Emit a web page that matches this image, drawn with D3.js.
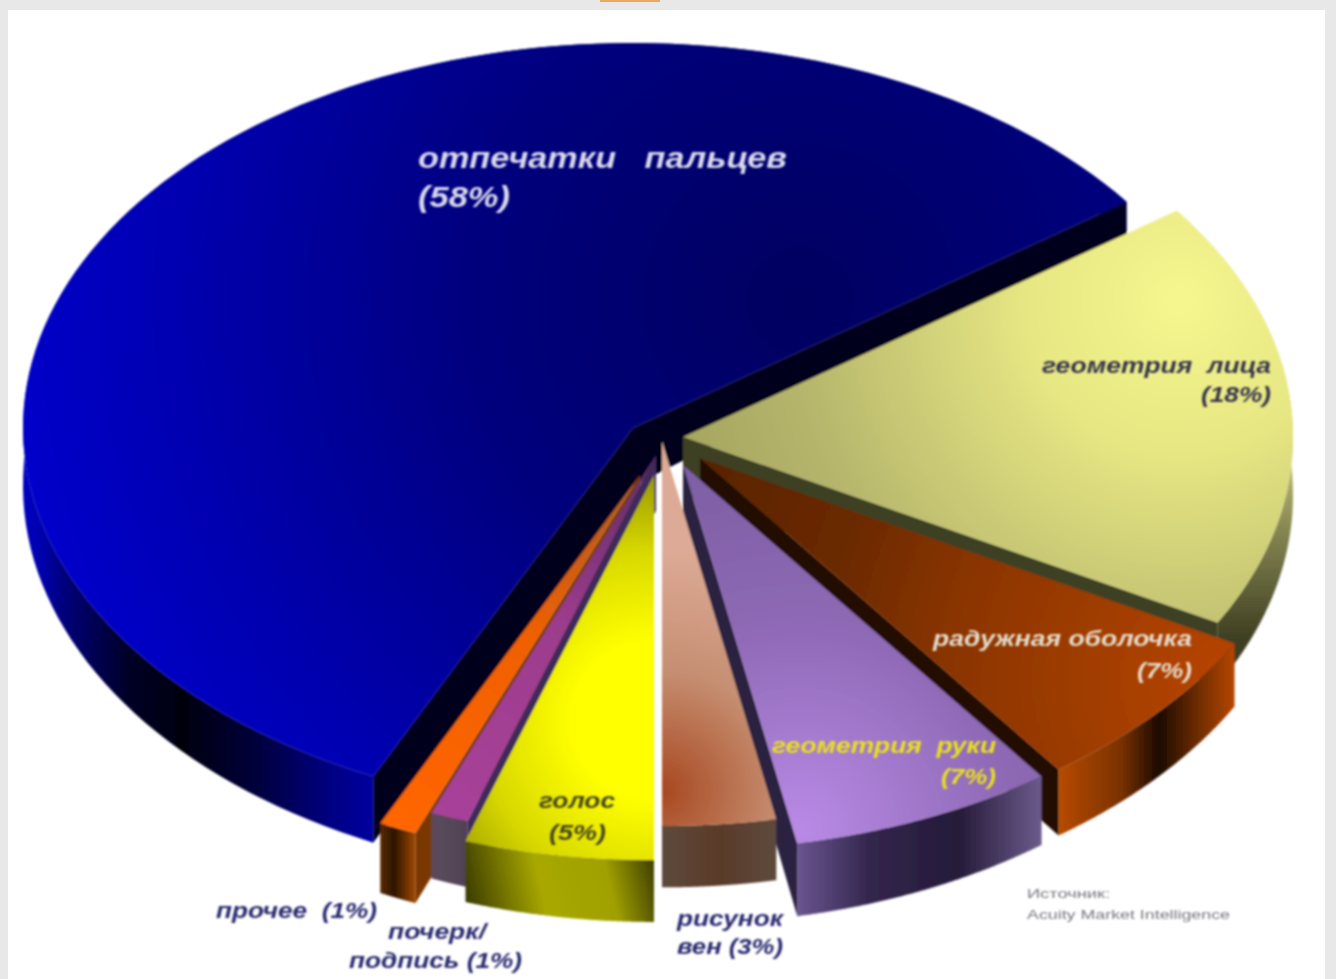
<!DOCTYPE html>
<html>
<head>
<meta charset="utf-8">
<script src="https://cdn.jsdelivr.net/npm/d3@7"></script>
<style>
  html, body { margin: 0; padding: 0; background: #e8e8e8; }
  svg { display: block; }
  text { font-family: "Liberation Sans", sans-serif; font-weight: 700; font-style: italic; }
  text.source { font-weight: 400; font-style: normal; }
</style>
</head>
<body>
<svg id="chart"></svg>
<script>
// --- Dados ---
const categories = ["отпечатки пальцев", "геометрия лица", "радужная оболочка", "геометрия руки",
                    "рисунок вен", "голос", "почерк/подпись", "прочее"];
const shares = [58, 18, 7, 7, 3, 5, 1, 1];
const labelLines = [
  ["отпечатки   пальцев", "(58%)"],
  ["геометрия  лица", "(18%)"],
  ["радужная оболочка", "(7%)"],
  ["геометрия  руки", "(7%)"],
  ["рисунок", "вен (3%)"],
  ["голос", "(5%)"],
  ["почерк/", "подпись (1%)"],
  ["прочее  (1%)"]
];
const sourceLines = ["Источник:", "Acuity Market Intelligence"];

// --- Configurações ---
const W = 1336, H = 979;
const rx = 610, ry = 385;
const rad = Math.PI / 180;

// ponto de origem de cada fatia (explosão), mesma ordem de categories
const apex = [[633, 428], [683, 437], [700, 458], [683, 465], [662, 441], [654, 475], [656, 455], [640, 475]];
// paredes de corte visíveis: "start", "end"
const cutWalls = [["start", "end"], ["end"], ["end"], ["end"], [], [], ["start"], ["start"]];
// ordem de pintura (de trás para a frente)
const paintOrder = [0, 1, 2, 3, 7, 6, 5, 4];
// ajuste da espessura por fatia
const depthFactor = [1, 1, 1, 1.03, 0.88, 0.86, 0.95, 1];

// espessura cresce em direção ao observador
const depth = d3.scaleLinear().domain([200, 430, 770, 860]).range([35, 58, 66, 72]);

const svg = d3.select("#chart").attr("width", W).attr("height", H);
const defs = svg.append("defs");

function addGradient(id, g) {
  const el = g.r
    ? defs.append("radialGradient").attr("cx", g.c[0]).attr("cy", g.c[1]).attr("r", g.r)
    : defs.append("linearGradient").attr("x1", g.p[0]).attr("y1", g.p[1]).attr("x2", g.p[2]).attr("y2", g.p[3]);
  el.attr("id", id).attr("gradientUnits", "userSpaceOnUse");
  el.selectAll("stop").data(g.stops).enter().append("stop")
    .attr("offset", d => d[0]).attr("stop-color", d => d[1]);
  return `url(#${id})`;
}

// estilos das fatias
const topStyles = [
  { c: [800, 300], r: 800, stops: [[0, "#000060"], [0.4, "#00007c"], [0.75, "#0000ac"], [1, "#0000cc"]] },
  { c: [1180, 300], r: 520, stops: [[0, "#f7f78f"], [0.3, "#e6e683"], [0.75, "#b5b56c"], [1, "#a5a560"]] },
  { c: [1230, 680], r: 560, stops: [[0, "#b84500"], [0.5, "#8a3500"], [0.72, "#6c2a00"], [1, "#5a2400"]] },
  { c: [800, 830], r: 420, stops: [[0, "#b98ae6"], [0.5, "#8e69b5"], [1, "#7a5c9f"]] },
  { c: [662, 790], r: 240, stops: [[0, "#a84820"], [0.5, "#c68f72"], [1, "#dcaa96"]] },
  { c: [650, 720], r: 260, stops: [[0, "#ffff00"], [0.3, "#ffff00"], [0.65, "#d8d800"], [1, "#8d8d00"]] },
  { c: [440, 815], r: 380, stops: [[0, "#a8429a"], [0.6, "#9c3c8c"], [1, "#6a3070"]] },
  { c: [400, 825], r: 380, stops: [[0, "#ff6600"], [0.6, "#f06000"], [1, "#b85a20"]] }
];
const sideStyles = [
  { p: [23, 0, 378, 0], stops: [[0, "#0000c4"], [0.06, "#0000a8"], [0.12, "#000078"], [0.3, "#000026"], [0.45, "#00000e"], [0.65, "#00003a"], [0.86, "#000080"], [1, "#0000a4"]] },
  { p: [0, 430, 0, 640], stops: [[0, "#d6d68a"], [0.45, "#8a8a55"], [1, "#3e3e22"]] },
  { p: [1058, 0, 1232, 0], stops: [[0, "#b84a00"], [0.36, "#7a3200"], [0.58, "#1c0b00"], [0.8, "#6c2c00"], [1, "#b04400"]] },
  { p: [797, 0, 1040, 0], stops: [[0, "#6a5590"], [0.3, "#33264d"], [0.66, "#251a38"], [1, "#6a5a8a"]] },
  { p: [662, 0, 776, 0], stops: [[0, "#5e4a3c"], [0.5, "#5a3a28"], [1, "#5c4a3c"]] },
  { p: [466, 905, 654, 862], stops: [[0, "#3a3a00"], [0.4, "#a8a800"], [0.75, "#a0a000"], [1, "#404000"]] },
  { p: [437, 0, 468, 0], stops: [[0, "#5a4a5c"], [1, "#4e4254"]] },
  { p: [380, 0, 420, 0], stops: [[0, "#5a2a00"], [0.35, "#2c1500"], [1, "#b85400"]] }
];
const wallColors = ["#00001e", "#3c4020", "#241000", "#2a2340", "#000", "#000", "#3f2a5c", "#7a3800"];
const labelColors = ["#d8d8ec", "#34344c", "#e6dccc", "#e8e020", "#2a2a70", "#46461c", "#2a2a70", "#2a2a70"];
// [x, linha de base, largura] por linha de rótulo
const labelBoxes = [
  [[418, 168, 369], [418, 207, 92]],
  [[1042, 373, 229], [1201, 402, 70]],
  [[933, 646, 259], [1137, 678, 55]],
  [[772, 753, 224], [941, 784, 55]],
  [[677, 926, 106], [677, 954, 106]],
  [[539, 808, 76], [549, 840, 57]],
  [[388, 939, 98], [349, 968, 173]],
  [[216, 918, 161]]
];
const sourceBoxes = [[1027, 898, 83], [1027, 919, 203]];

// blur leve: a imagem original é de baixa resolução
const soft = defs.append("filter").attr("id", "soft");
soft.append("feGaussianBlur").attr("stdDeviation", 0.8);
const softText = defs.append("filter").attr("id", "softText")
  .attr("x", "-5%").attr("y", "-20%").attr("width", "110%").attr("height", "140%");
softText.append("feGaussianBlur").attr("stdDeviation", 0.8);

// --- Fundo ---
svg.append("rect").attr("x", 8).attr("y", 10).attr("width", 1317).attr("height", H - 10).attr("fill", "#fff");
svg.append("rect").attr("x", 600).attr("y", 0).attr("width", 60).attr("height", 2).attr("fill", "#e8a860");

// --- Fatias ---
const pie = d3.pie().sort(null).startAngle(-154.8 * rad).endAngle(205.2 * rad);
const arcs = pie(shares);
const line = d3.line();

// ângulo 0 em cima, sentido horário (igual ao d3.pie)
const rimPoint = (i, a) => [apex[i][0] + rx * Math.sin(a), apex[i][1] - ry * Math.cos(a)];
const drop = (p, i) => [p[0], p[1] + depth(p[1]) * depthFactor[i]];
const rim = (i, a0, a1) => d3.range(0, 121).map(k => rimPoint(i, a0 + (a1 - a0) * k / 120));

const plot = svg.append("g").attr("filter", "url(#soft)");

paintOrder.forEach(i => {
  const a = arcs[i];
  const g = plot.append("g").attr("class", "slice").datum(categories[i]);
  const outer = rim(i, a.startAngle, a.endAngle);

  // lateral externa
  g.append("path")
    .attr("d", line(outer.concat(outer.map(p => drop(p, i)).reverse())) + "Z")
    .attr("fill", addGradient("side" + i, sideStyles[i]));

  // paredes de corte
  cutWalls[i].forEach(edge => {
    const q = rimPoint(i, edge === "start" ? a.startAngle : a.endAngle);
    const wall = [apex[i], q, drop(q, i), drop(apex[i], i)];
    g.append("path").attr("d", line(wall) + "Z").attr("fill", wallColors[i]);
  });

  // superfície superior
  g.append("path")
    .attr("d", line([apex[i]].concat(outer)) + "Z")
    .attr("fill", addGradient("top" + i, topStyles[i]));
});

// --- Rótulos ---
const labels = svg.append("g").attr("filter", "url(#softText)");
labelLines.forEach((lines, i) => {
  lines.forEach((t, j) => {
    const b = labelBoxes[i][j];
    labels.append("text")
      .attr("x", b[0]).attr("y", b[1])
      .attr("font-size", i === 0 ? 29 : 22)
      .attr("textLength", b[2]).attr("lengthAdjust", "spacingAndGlyphs")
      .attr("xml:space", "preserve")
      .attr("fill", labelColors[i])
      .text(t);
  });
});
sourceLines.forEach((t, j) => {
  const b = sourceBoxes[j];
  labels.append("text").attr("class", "source")
    .attr("x", b[0]).attr("y", b[1]).attr("font-size", 13)
    .attr("textLength", b[2]).attr("lengthAdjust", "spacingAndGlyphs")
    .attr("fill", "#77777f").text(t);
});
</script>
</body>
</html>
